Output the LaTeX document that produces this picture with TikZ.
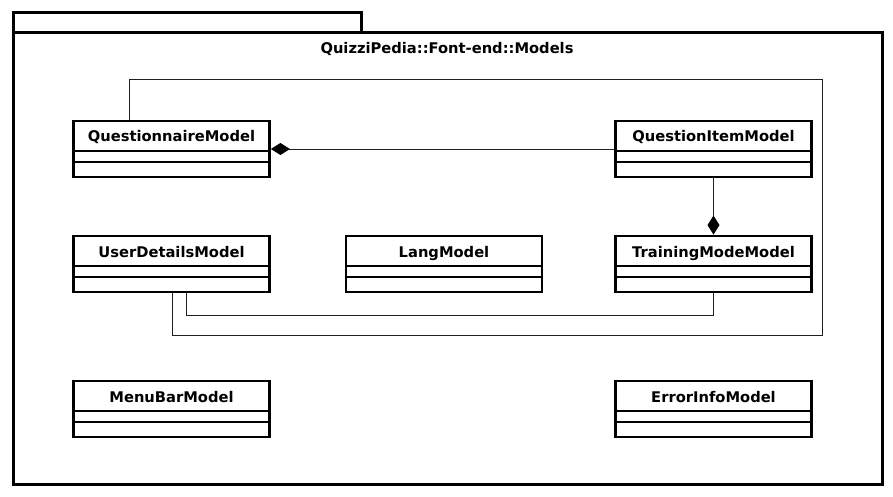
\documentclass[tikz,border=0pt]{standalone}
\usepackage{fontspec}
\setmainfont{DejaVu Sans}
\usepackage{tikz}
\usetikzlibrary{calc, arrows.meta, positioning}
\definecolor{mylinegray}{RGB}{30, 30, 30}
\tikzset{>=latex}
\tikzset{
  classbox/.style = {draw, line width = 2.8pt, fill = white,
    minimum width = 196pt, inner xsep = 0pt, inner ysep = 0pt,
    text height = 21pt, text depth = 35pt,
    font = \bfseries\fontsize{14.7}{16}\selectfont,
    path picture = {
      \draw[line width = 1.2pt] ([yshift = -30pt]path picture bounding box.north west) -- ([yshift = -30pt]path picture bounding box.north east);
      \draw[line width = 1.2pt] ([yshift = -41pt]path picture bounding box.north west) -- ([yshift = -41pt]path picture bounding box.north east);
    }},
  assoc/.style = {draw = mylinegray, line width = 0.9pt},
  comp/.style = {assoc, {Diamond[length = 19pt, width = 12pt, fill = black, color = black]}-}
}

\begin{document}
\begin{tikzpicture}[x = 1pt, y = -1pt]
\useasboundingbox (0,0) rectangle (893,497);
% package
\draw[line width = 3pt] (13,13) rectangle (361,33);
\draw[line width = 3pt] (13,33) rectangle (882,484);
\node[font = \bfseries\fontsize{14.7}{16}\selectfont] (pkgname) at (447, 49) {QuizziPedia::Font-end::Models};

% classes
\node[classbox] (qm)  at (171.5, 149) {QuestionnaireModel};
\node[classbox] (qim) at (713.5, 149) {QuestionItemModel};
\node[classbox] (udm) at (171.5, 264) {UserDetailsModel};
\node[classbox] (lm)  at (444, 264)   {LangModel};
\node[classbox] (tmm) at (713.5, 264) {TrainingModeModel};
\node[classbox] (mbm) at (171.5, 409) {MenuBarModel};
\node[classbox] (eim) at (713.5, 409) {ErrorInfoModel};

% links
\draw[comp] (qm.east) -- (qim.west);
\draw[comp] (tmm.north) -- (qim.south);
\draw[assoc] ([xshift = -42.5pt]qm.north) -- ++(0,-40) -| (822,335) -| ([xshift = 0.5pt]udm.south);
\draw[assoc] ([xshift = 14.5pt]udm.south) -- ++(0,22) -| (tmm.south);
\end{tikzpicture}
\end{document}
